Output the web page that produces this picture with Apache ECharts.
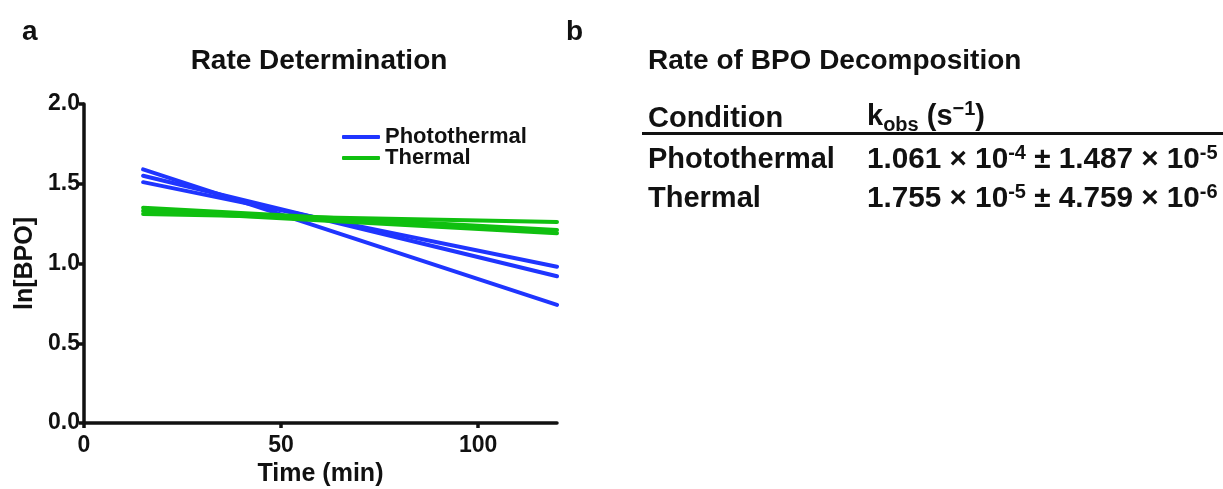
<!DOCTYPE html>
<html><head><meta charset="utf-8">
<script src="https://cdn.jsdelivr.net/npm/echarts@6/dist/echarts.min.js"></script>
<style>html,body{margin:0;padding:0;background:#fff}#c{width:1223px;height:489px}</style>
</head><body><div id="c"></div>
<script>
// ---- data ----
const timeRange = [15, 120];
const photothermalRuns = [[1.59, 0.74], [1.55, 0.92], [1.51, 0.98]];
const thermalRuns = [[1.35, 1.21], [1.33, 1.19], [1.31, 1.26]];
const xTicks = [0, 50, 100];
const yTicks = [0.0, 0.5, 1.0, 1.5, 2.0];
const conditions = ['Photothermal', 'Thermal'];
const kMean = [['1.061', '-4'], ['1.755', '-5']];
const kErr = [['1.487', '-5'], ['4.759', '-6']];

// ---- chart ----
const FONT = '"Liberation Sans", Arial, Helvetica, sans-serif';
const BLUE = '#1f35ff';
const GREEN = '#10c010';
const INK = '#111';
const chart = echarts.init(document.getElementById('c'), null, {renderer: 'canvas'});

function runSeries(name, runs, color) {
  return runs.map(r => ({
    name: name, type: 'line', symbol: 'none', silent: true, animation: false,
    color: color,
    lineStyle: {color: color, width: 4, cap: 'round'},
    data: [[timeRange[0], r[0]], [timeRange[1], r[1]]]
  }));
}

const axisCommon = {
  axisLine: {show: true, lineStyle: {color: INK, width: 3.5}},
  axisTick: {show: true, inside: false, length: 5, lineStyle: {color: INK, width: 3.5}},
  splitLine: {show: false},
  axisLabel: {color: INK, fontFamily: FONT, fontWeight: 'bold', fontSize: 23},
  nameTextStyle: {color: INK, fontFamily: FONT, fontWeight: 'bold', fontSize: 25}
};

const T = 29;   // table font size
const V = 29.7; // value font size
const S = 20;   // super/subscript font size
const rowY = [160, 199];
const graphics = [
  {type: 'text', x: 22, y: 32, style: {text: 'a', font: 'bold 28px ' + FONT, fill: INK, verticalAlign: 'middle'}},
  {type: 'text', x: 566, y: 32, style: {text: 'b', font: 'bold 28px ' + FONT, fill: INK, verticalAlign: 'middle'}},
  {type: 'text', x: 319, y: 61, style: {text: 'Rate Determination', font: 'bold 28px ' + FONT, fill: INK, align: 'center', verticalAlign: 'middle'}},
  {type: 'text', x: 648, y: 61, style: {text: 'Rate of BPO Decomposition', font: 'bold 28px ' + FONT, fill: INK, align: 'left', verticalAlign: 'middle'}},
  {type: 'text', x: 648, y: 119, style: {text: 'Condition', font: 'bold ' + T + 'px ' + FONT, fill: INK, align: 'left', verticalAlign: 'middle'}},
  {type: 'text', x: 867, y: 117, style: {
    text: '{k|k}{sub|obs}{k| (s}{sup|−1}{k|)}', align: 'left', verticalAlign: 'middle',
    rich: {
      k: {font: 'bold ' + T + 'px ' + FONT, fill: INK, lineHeight: 36, verticalAlign: 'middle'},
      sub: {font: 'bold ' + S + 'px ' + FONT, fill: INK, lineHeight: 36, verticalAlign: 'bottom'},
      sup: {font: 'bold ' + S + 'px ' + FONT, fill: INK, lineHeight: 36, verticalAlign: 'top'}
    }}},
  {type: 'rect', shape: {x: 642, y: 132, width: 581, height: 3}, style: {fill: INK}}
];
conditions.forEach((c, i) => {
  graphics.push({type: 'text', x: 648, y: rowY[i], style: {text: c, font: 'bold ' + T + 'px ' + FONT, fill: INK, align: 'left', verticalAlign: 'middle'}});
  graphics.push({type: 'text', x: 867, y: rowY[i], style: {
    text: '{v|' + kMean[i][0] + ' × 10}{sup|' + kMean[i][1] + '}{v| ± ' + kErr[i][0] + ' × 10}{sup|' + kErr[i][1] + '}',
    align: 'left', verticalAlign: 'middle',
    rich: {
      v: {font: 'bold ' + V + 'px ' + FONT, fill: INK, lineHeight: 34, verticalAlign: 'middle'},
      sup: {font: 'bold ' + S + 'px ' + FONT, fill: INK, lineHeight: 34, verticalAlign: 'top'}
    }}});
});

chart.setOption({
  animation: false,
  backgroundColor: '#fff',
  grid: {left: 84, top: 104, width: 473, height: 319, containLabel: false, outerBoundsMode: 'none'},
  legend: {
    data: ['Photothermal', 'Thermal'], orient: 'vertical', left: 337, top: 121,
    icon: 'roundRect', itemWidth: 38, itemHeight: 4, itemGap: -1,
    selectedMode: false,
    textStyle: {color: INK, fontFamily: FONT, fontWeight: 'bold', fontSize: 22, lineHeight: 18}
  },
  xAxis: Object.assign({}, axisCommon, {
    type: 'value', min: 0, max: 120, interval: 50,
    name: 'Time (min)', nameLocation: 'middle', nameGap: 38,
    axisTick: Object.assign({}, axisCommon.axisTick, {customValues: xTicks}),
    axisLabel: Object.assign({}, axisCommon.axisLabel, {customValues: xTicks, margin: 11})
  }),
  yAxis: Object.assign({}, axisCommon, {
    type: 'value', min: 0, max: 2, interval: 0.5,
    name: 'ln[BPO]', nameLocation: 'middle', nameGap: 46,
    axisTick: Object.assign({}, axisCommon.axisTick, {customValues: yTicks}),
    axisLabel: Object.assign({}, axisCommon.axisLabel, {customValues: yTicks, margin: 4, formatter: v => v.toFixed(1)})
  }),
  series: runSeries('Photothermal', photothermalRuns, BLUE).concat(runSeries('Thermal', thermalRuns, GREEN)),
  graphic: graphics
});
</script></body></html>
